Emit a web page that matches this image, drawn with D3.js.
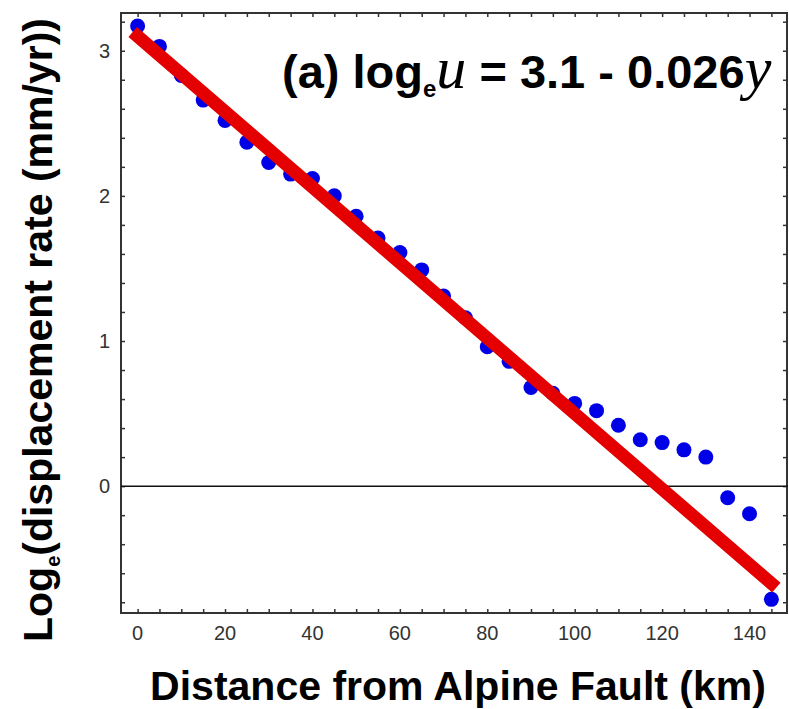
<!DOCTYPE html>
<html>
<head>
<meta charset="utf-8">
<script src="https://cdn.jsdelivr.net/npm/d3@7"></script>
<style>
  body { margin: 0; background: #fff; }
  svg { display: block; }
</style>
</head>
<body>
<script>
// distance from the fault (km) and log of displacement rate
const distances = [0, 5, 10, 15, 20, 25, 30, 35, 40, 45, 50, 55, 60, 65, 70,
  75, 80, 85, 90, 95, 100, 105, 110, 115, 120, 125, 130, 135, 140, 145]
const logRates = [3.17, 3.03, 2.83, 2.66, 2.52, 2.37, 2.23, 2.15, 2.12, 2.0, 1.86, 1.71, 1.61, 1.49, 1.31,
  1.16, 0.96, 0.86, 0.68, 0.64, 0.57, 0.52, 0.42, 0.32, 0.30, 0.25, 0.20, -0.08, -0.19, -0.78]

// fitted line log_e u = 3.1 - 0.026 y
const fitIntercept = 3.1
const fitSlope = -0.026
const fitRange = [0, 145]

const xLabels = [0, 20, 40, 60, 80, 100, 120, 140]
const yLabels = [0, 1, 2, 3]

const W = 789, H = 709
const m = {top: 13, right: 1, bottom: 96, left: 121}

const svg = d3.select('body').append('svg')
      .attr('width', W)
      .attr('height', H)
      .style('font-family', "'Liberation Sans', Arial, sans-serif")

const x = d3.scaleLinear()
      .domain([-3.8, 148.8])
      .range([m.left, W - m.right])

const y = d3.scaleLinear()
      .domain([-0.874, 3.26])
      .range([H - m.bottom, m.top])

const x0 = x.range()[0], x1 = x.range()[1]
const y0 = y.range()[0], y1 = y.range()[1]

// minor ticks every 5 km / every 0.2
const xTicks = d3.range(0, 146, 5)
const yTicks = d3.range(-4, 17).map(d => +(d * 0.2).toFixed(1))

// frame with inward ticks on all four sides
const axisColor = '#333'
svg.append('g')
      .attr('transform', 'translate(0,' + y0 + ')')
      .call(d3.axisBottom(x).tickValues(xTicks).tickSize(-4).tickFormat(''))
svg.append('g')
      .attr('transform', 'translate(0,' + y1 + ')')
      .call(d3.axisTop(x).tickValues(xTicks).tickSize(-4).tickFormat(''))
svg.append('g')
      .attr('transform', 'translate(' + x0 + ',0)')
      .call(d3.axisLeft(y).tickValues(yTicks).tickSize(-4).tickFormat(''))
svg.append('g')
      .attr('transform', 'translate(' + (x1 - 1) + ',0)')
      .call(d3.axisRight(y).tickValues(yTicks).tickSize(-4).tickFormat(''))

svg.selectAll('.domain').remove()
svg.selectAll('.tick line')
      .attr('stroke', axisColor)
      .attr('stroke-width', 1.5)

svg.append('rect')
      .attr('x', x0)
      .attr('y', y1)
      .attr('width', x1 - x0 - 1)
      .attr('height', y0 - y1)
      .attr('fill', 'none')
      .attr('stroke', axisColor)
      .attr('stroke-width', 2)

// tick labels
svg.append('g').selectAll('text')
      .data(xLabels)
      .enter().append('text')
      .attr('x', d => x(d))
      .attr('y', y0 + 27)
      .attr('text-anchor', 'middle')
      .attr('font-size', 20)
      .attr('fill', '#333')
      .text(d => d)

svg.append('g').selectAll('text')
      .data(yLabels)
      .enter().append('text')
      .attr('x', x0 - 11)
      .attr('y', d => y(d) + 7)
      .attr('text-anchor', 'end')
      .attr('font-size', 20)
      .attr('fill', '#333')
      .text(d => d)

// zero line
svg.append('line')
      .attr('x1', x0)
      .attr('x2', x1)
      .attr('y1', y(0))
      .attr('y2', y(0))
      .attr('stroke', '#111')
      .attr('stroke-width', 1.5)

// data points
svg.append('g').selectAll('circle')
      .data(distances)
      .enter().append('circle')
      .attr('cx', d => x(d))
      .attr('cy', (d, i) => y(logRates[i]))
      .attr('r', 7.5)
      .attr('fill', '#0000e6')

// regression line
svg.append('line')
      .attr('x1', x(fitRange[0]))
      .attr('y1', y(fitIntercept + fitSlope * fitRange[0]))
      .attr('x2', x(fitRange[1]))
      .attr('y2', y(fitIntercept + fitSlope * fitRange[1]))
      .attr('stroke', '#e40000')
      .attr('stroke-width', 13)
      .attr('stroke-linecap', 'square')

// equation in the corner
const serif = "'Liberation Serif', 'Times New Roman', serif"
const eq = svg.append('text')
      .attr('x', 282)
      .attr('y', 88)
      .attr('font-size', 47)
      .attr('font-weight', 'bold')
      .attr('fill', '#000')
eq.append('tspan').text('(a) log')
eq.append('tspan').attr('font-size', 24).attr('dy', 9).text('e')
eq.append('tspan').attr('dy', -9)
      .attr('font-family', serif)
      .attr('font-style', 'italic')
      .attr('font-weight', 'normal')
      .attr('font-size', 60)
      .text('u')
eq.append('tspan').text(' = 3.1 - 0.026')
eq.append('tspan')
      .attr('font-family', serif)
      .attr('font-style', 'italic')
      .attr('font-weight', 'normal')
      .attr('font-size', 60)
      .text('y')

// axis titles
svg.append('text')
      .attr('x', 458)
      .attr('y', 700)
      .attr('text-anchor', 'middle')
      .attr('font-size', 41)
      .attr('font-weight', 'bold')
      .text('Distance from Alpine Fault (km)')

const yt = svg.append('text')
      .attr('transform', 'translate(52,330) rotate(-90)')
      .attr('text-anchor', 'middle')
      .attr('font-size', 41)
      .attr('font-weight', 'bold')
yt.append('tspan').text('Log')
yt.append('tspan').attr('font-size', 20).attr('dy', 8).text('e')
yt.append('tspan').attr('dy', -8).text('(displacement rate (mm/yr))')
</script>
</body>
</html>
